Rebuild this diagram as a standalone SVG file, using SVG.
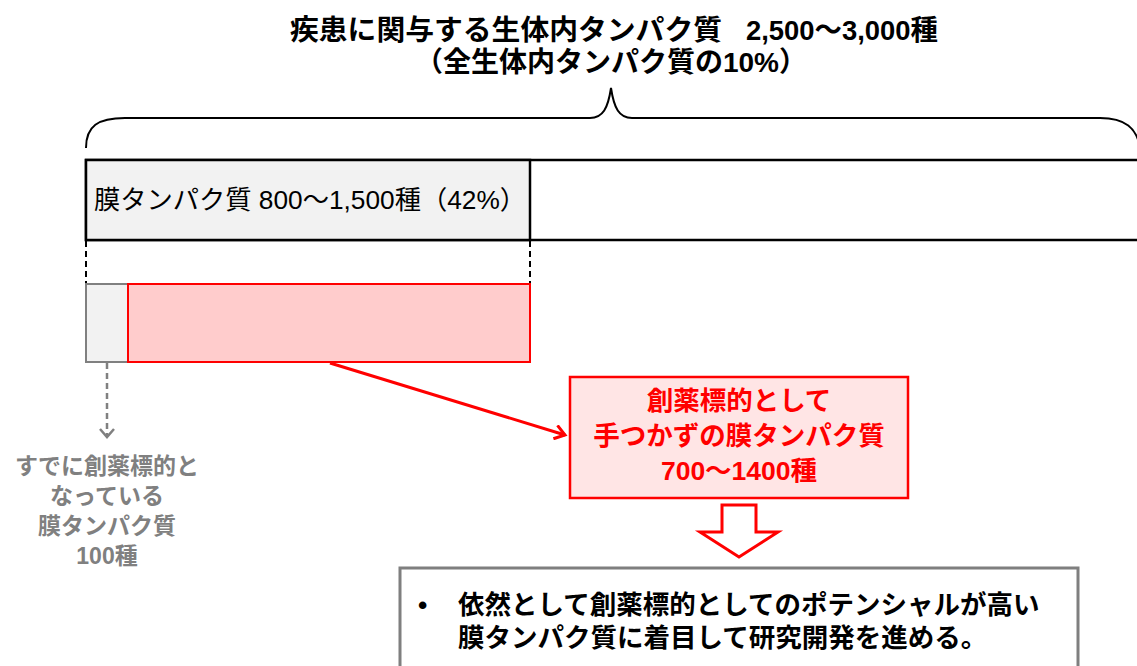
<svg xmlns="http://www.w3.org/2000/svg" width="1137" height="666" viewBox="0 0 1137 666">
<style>
text{font-family:"Liberation Sans","Noto Sans CJK JP",sans-serif;}
.b{font-weight:bold;}
.title{font-size:28px;fill:#000;}
.gray{font-size:23px;fill:#808080;text-anchor:middle;}
.red{font-size:26.5px;fill:#ff0000;text-anchor:middle;}
.main{font-size:26.5px;fill:#000;}
</style>
<defs>
<marker id="redHead" markerWidth="16" markerHeight="16" refX="12" refY="8" orient="auto" markerUnits="userSpaceOnUse">
<polyline points="2,1 12,8 2,15" fill="none" stroke="#ff0000" stroke-width="3"/>
</marker>
<marker id="grayHead" markerWidth="16" markerHeight="16" refX="12" refY="8" orient="auto" markerUnits="userSpaceOnUse">
<polyline points="4,1 12,8 4,15" fill="none" stroke="#808080" stroke-width="2.5"/>
</marker>
</defs>
<rect width="1137" height="666" fill="#fff"/>

<g id="title">
<text class="title b" y="40"><tspan x="290" textLength="432" lengthAdjust="spacingAndGlyphs">疾患に関与する生体内タンパク質</tspan><tspan x="746" textLength="192" lengthAdjust="spacingAndGlyphs">2,500〜3,000種</tspan></text>
<text class="title b" x="611" y="72" text-anchor="middle">（全生体内タンパク質の10%）</text>
</g>

<g id="brace">
<path d="M86,148 C86,126 98,118 125,118 L590,118 C603,118 608,108 611,88 C614,108 619,118 632,118 L1100,118 C1125,118 1137,128 1140,148" fill="none" stroke="#000" stroke-width="2"/>
</g>

<g id="total-bar">
<rect x="86" y="160" width="1060" height="80" fill="#fff" stroke="#000" stroke-width="2.5"/>
</g>

<g id="membrane-bar">
<rect x="86" y="160" width="444" height="80" fill="#f2f2f2" stroke="#000" stroke-width="2.5"/>
<text x="94" y="209" font-size="26" fill="#000" textLength="432" lengthAdjust="spacingAndGlyphs">膜タンパク質 800〜1,500種（42%）</text>
</g>

<g id="existing-bar">
<rect x="86" y="284" width="42" height="78" fill="#f2f2f2" stroke="#808080" stroke-width="2"/>
</g>

<g id="untouched-bar">
<rect x="128" y="284" width="402" height="78" fill="#ffcccc" stroke="#ff0000" stroke-width="2"/>
</g>

<g id="existing-label">
<text class="gray b" x="107" y="474">すでに創薬標的と</text>
<text class="gray b" x="107" y="504">なっている</text>
<text class="gray b" x="107" y="534">膜タンパク質</text>
<text class="gray b" x="107" y="564">100種</text>
</g>

<g id="untouched-box">
<rect x="570" y="377" width="338" height="121" fill="#ffe5e5" stroke="#ff0000" stroke-width="2.5"/>
<text class="red b" x="739" y="410">創薬標的として</text>
<text class="red b" x="739" y="445">手つかずの膜タンパク質</text>
<text class="red b" x="739" y="480">700〜1400種</text>
</g>

<g id="conclusion-box">
<rect x="400" y="568" width="678" height="110" fill="#fff" stroke="#7f7f7f" stroke-width="3"/>
<text class="main b" x="418" y="614">•</text>
<text class="main b" x="458" y="614">依然として創薬標的としてのポテンシャルが高い</text>
<text class="main b" x="458" y="647">膜タンパク質に着目して研究開発を進める。</text>
</g>

<g id="connectors">
<line x1="86" y1="241" x2="86" y2="283" stroke="#000" stroke-width="2" stroke-dasharray="6,4"/>
<line x1="530" y1="241" x2="530" y2="283" stroke="#000" stroke-width="2" stroke-dasharray="6,4"/>
<line x1="107" y1="363" x2="107" y2="437" stroke="#808080" stroke-width="2.5" stroke-dasharray="6,4" marker-end="url(#grayHead)"/>
<line x1="330" y1="363" x2="565" y2="435" stroke="#ff0000" stroke-width="3" marker-end="url(#redHead)"/>
<polygon points="722,505 756,505 756,532 778,532 739,557 700,532 722,532" fill="#fff" stroke="#ff0000" stroke-width="3"/>
</g>
</svg>
